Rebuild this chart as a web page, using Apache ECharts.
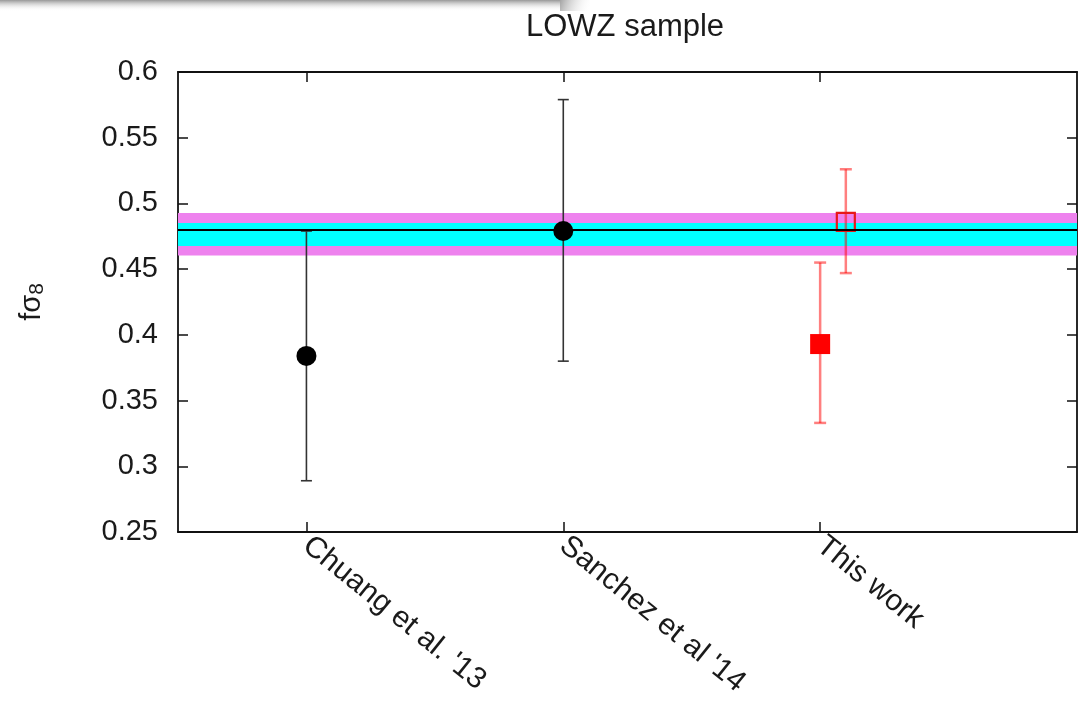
<!DOCTYPE html>
<html>
<head>
<meta charset="utf-8">
<script src="https://cdn.jsdelivr.net/npm/echarts@6/dist/echarts.min.js"></script>
<style>
html,body{margin:0;padding:0;background:#fff;}
#c{width:1079px;height:717px;}
</style>
</head>
<body>
<div id="c"></div>
<script>
// ---- data ----
const categories = ["Chuang et al. '13", "Sanchez et al '14", "This work"];
const categoryPos = [1, 2, 3];
const yTicks = [0.25, 0.3, 0.35, 0.4, 0.45, 0.5, 0.55, 0.6];

// previous measurements (black circles)
const prevX = [1, 2];
const prevY = [0.384, 0.479];
const prevLo = [0.289, 0.380];
const prevHi = [0.479, 0.579];

// this work, filled square
const filledX = [3];
const filledY = [0.393];
const filledLo = [0.333];
const filledHi = [0.455];

// this work, open square
const openX = [3.1];
const openY = [0.486];
const openLo = [0.447];
const openHi = [0.526];

// horizontal bands
const bandOuter = [0.4603, 0.4928];
const bandInner = [0.4676, 0.4852];
const bandCenter = 0.4757;

// ---- build ----
const FONT = 'Liberation Sans, Arial, sans-serif';
function pts(xs, ys) { return xs.map((x, i) => [x, ys[i]]); }
function errs(xs, lo, hi) { return xs.map((x, i) => [x, lo[i], hi[i]]); }

function errRender(color, lw, capW) {
  return function (params, api) {
    const x = api.value(0);
    const pLo = api.coord([x, api.value(1)]);
    const pHi = api.coord([x, api.value(2)]);
    const st = { stroke: color, lineWidth: lw };
    return {
      type: 'group',
      children: [
        { type: 'line', shape: { x1: pLo[0], y1: pLo[1], x2: pHi[0], y2: pHi[1] }, style: st },
        { type: 'line', shape: { x1: pLo[0] - capW / 2, y1: pLo[1], x2: pLo[0] + capW / 2, y2: pLo[1] }, style: st },
        { type: 'line', shape: { x1: pHi[0] - capW / 2, y1: pHi[1], x2: pHi[0] + capW / 2, y2: pHi[1] }, style: st }
      ]
    };
  };
}

const axisLineStyle = { color: '#111', width: 1.8 };

const option = {
  animation: false,
  backgroundColor: '#fff',
  title: {
    text: 'LOWZ sample',
    left: 526,
    top: 12,
    padding: 0,
    textStyle: { fontFamily: FONT, fontSize: 31, fontWeight: 'normal', color: '#1a1a1a' }
  },
  graphic: [{
    type: 'rect',
    shape: { x: 0, y: 0, width: 560, height: 11 },
    style: {
      fill: {
        type: 'linear', x: 0, y: 0, x2: 0, y2: 1,
        colorStops: [{ offset: 0, color: 'rgba(140,140,140,0.9)' }, { offset: 1, color: 'rgba(255,255,255,0)' }]
      }
    },
    silent: true, z: 100
  }, {
    type: 'rect',
    shape: { x: 560, y: 0, width: 30, height: 11 },
    style: {
      fill: {
        type: 'linear', x: 0, y: 0, x2: 1, y2: 1,
        colorStops: [{ offset: 0, color: 'rgba(140,140,140,0.8)' }, { offset: 1, color: 'rgba(255,255,255,0)' }]
      }
    },
    silent: true, z: 100
  }],
  grid: { left: 178, right: 2, top: 72, bottom: 185, containLabel: false },
  xAxis: [{
    type: 'value', min: 0.5, max: 4, position: 'bottom',
    axisLine: { lineStyle: axisLineStyle },
    axisTick: { show: true, inside: true, length: 10, customValues: categoryPos, lineStyle: { color: '#111', width: 1.5 } },
    axisLabel: {
      customValues: categoryPos, rotate: -39, margin: 10,
      fontFamily: FONT, fontSize: 30, color: '#1a1a1a',
      formatter: v => categories[Math.round(v) - 1] || ''
    },
    splitLine: { show: false }
  }, {
    type: 'value', min: 0.5, max: 4, position: 'top',
    axisLine: { lineStyle: axisLineStyle },
    axisTick: { show: true, inside: true, length: 10, customValues: categoryPos, lineStyle: { color: '#111', width: 1.5 } },
    axisLabel: { show: false },
    splitLine: { show: false }
  }],
  yAxis: [{
    type: 'value', min: 0.25, max: 0.6, interval: 0.05, position: 'left',
    axisLine: { show: true, lineStyle: axisLineStyle },
    axisTick: { show: true, inside: true, length: 10, lineStyle: { color: '#111', width: 1.5 } },
    axisLabel: {
      margin: 20, fontFamily: FONT, fontSize: 29, color: '#1a1a1a',
      formatter: v => String(+v.toFixed(2))
    },
    splitLine: { show: false },
    name: '{a|fσ}{b|8}',
    nameLocation: 'middle',
    nameGap: 130,
    nameTextStyle: {
      rich: {
        a: { fontFamily: FONT, fontSize: 29, color: '#1a1a1a' },
        b: { fontFamily: FONT, fontSize: 21, color: '#1a1a1a', padding: [11, 0, 0, 0] }
      }
    }
  }, {
    type: 'value', min: 0.25, max: 0.6, interval: 0.05, position: 'right',
    axisLine: { show: true, lineStyle: axisLineStyle },
    axisTick: { show: true, inside: true, length: 10, lineStyle: { color: '#111', width: 1.5 } },
    axisLabel: { show: false },
    splitLine: { show: false }
  }],
  series: [
    {
      type: 'line', data: [], z: 1,
      markArea: {
        silent: true,
        data: [
          [{ yAxis: bandOuter[0], itemStyle: { color: '#ee82ee' } }, { yAxis: bandOuter[1] }],
          [{ yAxis: bandInner[0], itemStyle: { color: '#00ffff' } }, { yAxis: bandInner[1] }]
        ]
      },
      markLine: {
        silent: true, symbol: 'none', label: { show: false },
        lineStyle: { color: '#000', width: 1.8, type: 'solid' },
        data: [{ yAxis: bandCenter }]
      }
    },
    {
      type: 'custom', z: 3, renderItem: errRender('#333', 1.6, 11),
      encode: { x: 0, y: [1, 2] }, data: errs(prevX, prevLo, prevHi)
    },
    {
      type: 'custom', z: 3, renderItem: errRender('rgba(255,0,0,0.5)', 2.5, 12),
      encode: { x: 0, y: [1, 2] }, data: errs(filledX, filledLo, filledHi)
    },
    {
      type: 'custom', z: 3, renderItem: errRender('rgba(255,0,0,0.5)', 2.5, 12),
      encode: { x: 0, y: [1, 2] }, data: errs(openX, openLo, openHi)
    },
    {
      type: 'scatter', z: 4, symbol: 'circle', symbolSize: 20,
      itemStyle: { color: '#000', opacity: 1 }, data: pts(prevX, prevY)
    },
    {
      type: 'scatter', z: 4, symbol: 'rect', symbolSize: 20,
      itemStyle: { color: '#ff0000', opacity: 1 }, data: pts(filledX, filledY)
    },
    {
      type: 'scatter', z: 4, symbol: 'rect', symbolSize: 18,
      itemStyle: { color: 'rgba(0,0,0,0)', borderColor: '#e81818', borderWidth: 2.2, opacity: 1 },
      data: pts(openX, openY)
    }
  ]
};

const chart = echarts.init(document.getElementById('c'), null, { renderer: 'canvas' });
chart.setOption(option);
</script>
</body>
</html>
